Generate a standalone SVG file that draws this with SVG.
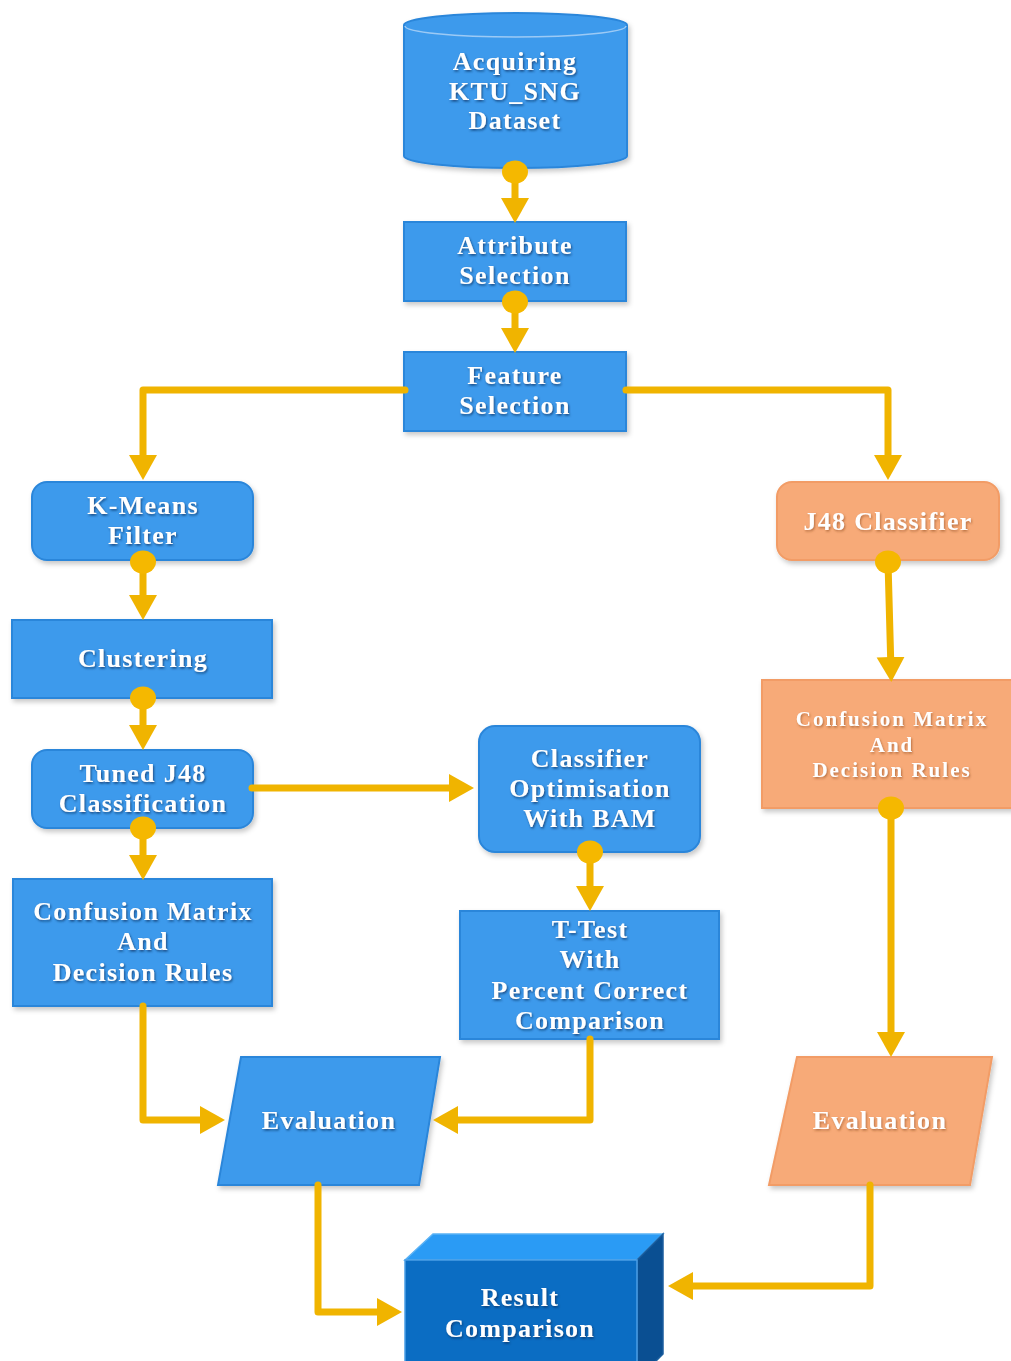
<svg xmlns="http://www.w3.org/2000/svg" width="1011" height="1361" viewBox="0 0 1011 1361">
<defs>
<style>
.b{fill:#3e9aec;stroke:#2b86da;stroke-width:2}
.o{fill:#f7aa78;stroke:#f29c66;stroke-width:2}
.t{font-family:"Liberation Serif","Times New Roman",serif;font-weight:bold;font-size:26px;letter-spacing:1.3px;fill:#ffffff;text-anchor:middle}
.ts{font-size:21px;letter-spacing:2px}
.c{fill:none;stroke:#f0b400;stroke-width:7;stroke-linejoin:round;stroke-linecap:round}
.d{fill:#f5b800}
</style>
<filter id="sh" x="-10%" y="-10%" width="125%" height="130%">
<feDropShadow dx="2" dy="3" stdDeviation="2.5" flood-color="#000" flood-opacity="0.22"/>
</filter>
<filter id="tsh" x="-10%" y="-30%" width="120%" height="170%">
<feDropShadow dx="1" dy="1.5" stdDeviation="1" flood-color="#0a2f5c" flood-opacity="0.75"/>
</filter>
<filter id="tsho" x="-10%" y="-30%" width="120%" height="170%">
<feDropShadow dx="1" dy="1.5" stdDeviation="1" flood-color="#8a4a1e" flood-opacity="0.6"/>
</filter>
<marker id="ah" markerUnits="userSpaceOnUse" markerWidth="26" markerHeight="30" viewBox="0 0 26 30" refX="14" refY="15" orient="auto">
<path d="M0,1 L25,15 L0,29 Z" fill="#f0b400"/>
</marker>
</defs>

<g id="acquiring" filter="url(#sh)">
<path class="b" d="M404,25 A111.5,12 0 0 1 627,25 V156 A111.5,12 0 0 1 404,156 Z"/>
<path d="M405,26 A110.5,11 0 0 0 626,26" fill="none" stroke="#9ccaf5" stroke-width="1.5"/>
</g>
<g filter="url(#tsh)">
<text class="t" x="515" y="70">Acquiring</text>
<text class="t" x="515" y="100">KTU_SNG</text>
<text class="t" x="515" y="129">Dataset</text>
</g>

<g id="attribute">
<rect class="b" x="404" y="222" width="222" height="79" filter="url(#sh)"/>
<g filter="url(#tsh)"><text class="t" x="515" y="254">Attribute</text><text class="t" x="515" y="284">Selection</text></g>
</g>

<g id="feature">
<rect class="b" x="404" y="352" width="222" height="79" filter="url(#sh)"/>
<g filter="url(#tsh)"><text class="t" x="515" y="384">Feature</text><text class="t" x="515" y="414">Selection</text></g>
</g>

<g id="kmeans">
<rect class="b" x="32" y="482" width="221" height="78" rx="15" filter="url(#sh)"/>
<g filter="url(#tsh)"><text class="t" x="143" y="514">K-Means</text><text class="t" x="143" y="544">Filter</text></g>
</g>

<g id="j48">
<rect class="o" x="777" y="482" width="222" height="78" rx="15" filter="url(#sh)"/>
<g filter="url(#tsho)"><text class="t" x="888" y="530">J48 Classifier</text></g>
</g>

<g id="clustering">
<rect class="b" x="12" y="620" width="260" height="78" filter="url(#sh)"/>
<g filter="url(#tsh)"><text class="t" x="143" y="667">Clustering</text></g>
</g>

<g id="tuned">
<rect class="b" x="32" y="750" width="221" height="78" rx="15" filter="url(#sh)"/>
<g filter="url(#tsh)"><text class="t" x="143" y="782">Tuned J48</text><text class="t" x="143" y="812">Classification</text></g>
</g>

<g id="optimisation">
<rect class="b" x="479" y="726" width="221" height="126" rx="16" filter="url(#sh)"/>
<g filter="url(#tsh)"><text class="t" x="590" y="767">Classifier</text><text class="t" x="590" y="797">Optimisation</text><text class="t" x="590" y="827">With BAM</text></g>
</g>

<g id="confusion-left">
<rect class="b" x="13" y="879" width="259" height="127" filter="url(#sh)"/>
<g filter="url(#tsh)"><text class="t" x="143" y="920">Confusion Matrix</text><text class="t" x="143" y="950">And</text><text class="t" x="143" y="981">Decision Rules</text></g>
</g>

<g id="ttest">
<rect class="b" x="460" y="911" width="259" height="128" filter="url(#sh)"/>
<g filter="url(#tsh)"><text class="t" x="590" y="938">T-Test</text><text class="t" x="590" y="968">With</text><text class="t" x="590" y="999">Percent Correct</text><text class="t" x="590" y="1029">Comparison</text></g>
</g>

<g id="confusion-right">
<rect class="o" x="762" y="680" width="260" height="128" filter="url(#sh)"/>
<g filter="url(#tsho)"><text class="t ts" x="892" y="726">Confusion Matrix</text><text class="t ts" x="892" y="752">And</text><text class="t ts" x="892" y="777">Decision Rules</text></g>
</g>

<g id="evaluation-left">
<polygon class="b" points="241,1057 440,1057 419,1185 218,1185" filter="url(#sh)"/>
<g filter="url(#tsh)"><text class="t" x="329" y="1129">Evaluation</text></g>
</g>

<g id="evaluation-right">
<polygon class="o" points="797,1057 992,1057 970,1185 769,1185" filter="url(#sh)"/>
<g filter="url(#tsho)"><text class="t" x="880" y="1129">Evaluation</text></g>
</g>

<g id="result">
<polygon points="405,1260 433,1234 663,1234 637,1260" fill="#2a9bf5" stroke="#5ab2f5" stroke-width="1.5"/>
<polygon points="637,1260 663,1234 663,1354 637,1380" fill="#0a4f92" stroke="#1b5e9e" stroke-width="1.5"/>
<rect x="405" y="1260" width="232" height="120" fill="#0b6dc3" stroke="#4b9ee6" stroke-width="1.5"/>
<g filter="url(#tsh)"><text class="t" x="520" y="1306">Result</text><text class="t" x="520" y="1337">Comparison</text></g>
</g>

<g id="connectors">
<path class="c" d="M515,172 V212" marker-end="url(#ah)"/>
<path class="c" d="M515,302 V342" marker-end="url(#ah)"/>
<path class="c" d="M405,390 H143 V469" marker-end="url(#ah)"/>
<path class="c" d="M626,390 H888 V469" marker-end="url(#ah)"/>
<path class="c" d="M143,562 V609" marker-end="url(#ah)"/>
<path class="c" d="M143,698 V739" marker-end="url(#ah)"/>
<path class="c" d="M252,788 H463" marker-end="url(#ah)"/>
<path class="c" d="M143,828 V869" marker-end="url(#ah)"/>
<path class="c" d="M590,852 V900" marker-end="url(#ah)"/>
<path class="c" d="M888,562 L891,671" marker-end="url(#ah)"/>
<path class="c" d="M891,808 V1046" marker-end="url(#ah)"/>
<path class="c" d="M143,1006 V1120 H214" marker-end="url(#ah)"/>
<path class="c" d="M590,1039 V1120 H444" marker-end="url(#ah)"/>
<path class="c" d="M318,1185 V1312 H391" marker-end="url(#ah)"/>
<path class="c" d="M870,1185 V1286 H679" marker-end="url(#ah)"/>
<ellipse class="d" cx="515" cy="172" rx="13" ry="11.5"/>
<ellipse class="d" cx="515" cy="302" rx="13" ry="11.5"/>
<ellipse class="d" cx="143" cy="562" rx="13" ry="11.5"/>
<ellipse class="d" cx="143" cy="698" rx="13" ry="11.5"/>
<ellipse class="d" cx="143" cy="828" rx="13" ry="11.5"/>
<ellipse class="d" cx="590" cy="852" rx="13" ry="11.5"/>
<ellipse class="d" cx="888" cy="562" rx="13" ry="11.5"/>
<ellipse class="d" cx="891" cy="808" rx="13" ry="11.5"/>
</g>
</svg>
